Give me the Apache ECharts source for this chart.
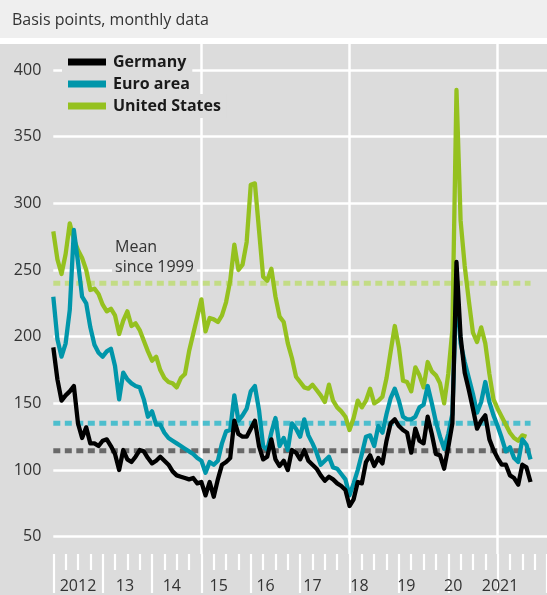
<!DOCTYPE html>
<html><head><meta charset="utf-8">
<script src="https://cdn.jsdelivr.net/npm/echarts@6/dist/echarts.min.js"></script>
<style>html,body{margin:0;padding:0;background:#dcdcdc}#c{width:547px;height:595px}</style>
</head><body><div id="c"></div>
<script>
// Monthly data, first value = January 2012
const startYear = 2012;
const yearLabels = ['2012','13','14','15','16','17','18','19','20','2021'];
const yTickMin = 50, yTickMax = 400, yTickStep = 50;

const germany = [192,168,152,156,159,163,135,124,132,120,
120,118,122,123,118,112,100,115,108,106,
110,115,114,109,105,107,110,107,104,99,
96,95,94,93,94,90,91,81,91,80,
93,104,106,109,137,127,125,125,131,137,
118,108,110,123,108,103,107,100,115,113,
108,115,107,104,101,96,92,95,93,90,
88,85,73,78,91,90,106,111,103,109,
105,122,135,138,133,130,128,113,131,122,
120,140,127,112,111,101,117,135,256,200,
173,160,146,131,137,141,123,115,109,104,
104,96,94,89,104,102,91];

const euroArea = [230,198,185,195,220,280,256,230,225,207,
194,188,185,189,191,178,153,173,168,165,
163,162,153,140,144,134,134,128,124,122,
120,118,116,114,112,109,107,98,106,104,
107,120,129,130,156,137,141,146,159,163,
145,118,115,128,139,118,124,115,135,131,
125,138,126,120,113,104,107,110,102,101,
97,93,81,90,100,112,125,126,118,133,
128,142,154,161,152,140,138,138,140,147,
149,163,150,136,125,116,127,142,240,195,
181,169,157,143,151,166,151,141,133,124,
114,117,109,106,123,119,108];

const unitedStates = [279,258,247,262,285,273,265,259,250,235,
236,232,224,219,221,216,202,212,219,208,
210,205,197,189,182,185,175,169,166,165,
162,169,172,189,202,215,228,204,214,213,
211,216,226,242,269,250,254,271,314,315,
280,245,242,251,230,215,211,195,184,170,
166,162,161,164,160,156,151,164,152,147,
144,140,130,139,152,147,152,161,150,152,
155,169,189,208,192,167,166,159,177,171,
162,181,174,171,165,150,172,205,385,287,
253,227,203,196,207,195,172,153,146,140,
134,128,124,122,126,125];

// Means since 1999
const meanGermany = 114.5;
const meanEuroArea = 135;
const meanUnitedStates = 240;
const meanFromMonth = 0, meanToMonth = 116;

const colors = {de:'#000000', ea:'#0096aa', us:'#95c11f', deMean:'#696969', eaMean:'#4dbecd', usMean:'#c3dc85'};

const toXY = arr => arr.map((v,i)=>[i, v]);
const meanLine = v => [[meanFromMonth, v],[meanToMonth, v]];

const FONT = 'Open Sans';
const gridL = 53.3, gridW = 494.4;
const monthsAxis = 12 * yearLabels.length; // 120

function legendItem(name, top){
  return {data:[name], left:62, top:top, orient:'vertical', padding:[2,6,2,6],
    backgroundColor:'#dcdcdc', itemWidth:38, itemHeight:7, icon:'rect', selectedMode:false,
    textStyle:{fontFamily:FONT, fontWeight:'bold', fontSize:16, color:'#1a1a1a', lineHeight:20, padding:[0,0,0,2]}};
}

const chart = echarts.init(document.getElementById('c'), null, {renderer:'canvas'});
chart.setOption({
  animation:false,
  backgroundColor:'#dcdcdc',
  title:{text:'Basis points, monthly data', left:12, top:10, padding:0,
    textStyle:{fontFamily:FONT, fontSize:16, fontWeight:'normal', color:'#333', lineHeight:20}},
  graphic:{elements:[
    {type:'rect', silent:true, z:-5, shape:{x:0,y:0,width:547,height:38}, style:{fill:'#efefef'}},
    {type:'rect', silent:true, z:-5, shape:{x:0,y:38,width:547,height:6}, style:{fill:'#ffffff'}},
    {type:'text', silent:true, z:10, left:112, top:235,
      style:{text:'Mean\nsince 1999', font:'16px "Open Sans"', fill:'#333', backgroundColor:'#dcdcdc', padding:[2,3,2,3], lineHeight:20}}
  ]},
  legend:[legendItem('Germany',50), legendItem('Euro area',72), legendItem('United States',94)],
  grid:[
    {left:gridL, width:gridW, top:44, height:510},
    {left:gridL, width:gridW, top:70, height:466.7},
    {left:gridL + gridW/monthsAxis*6, width:gridW, top:585, height:1}
  ],
  xAxis:[
    {gridIndex:0, type:'value', min:0, max:monthsAxis, interval:36,
      axisLine:{show:false}, axisTick:{show:false}, axisLabel:{show:false},
      splitLine:{show:true, showMinLine:false, showMaxLine:false, lineStyle:{color:'#ffffff', width:2.5}}},
    {gridIndex:0, type:'value', min:0, max:monthsAxis, interval:12, position:'bottom',
      axisLine:{show:false}, axisLabel:{show:false}, splitLine:{show:false},
      axisTick:{show:true, length:39, lineStyle:{color:'#ffffff', width:2.2}},
      minorTick:{show:true, splitNumber:4, length:16, lineStyle:{color:'#ffffff', width:2.2}},
      minorSplitLine:{show:false}},
    {gridIndex:1, type:'value', min:0, max:monthsAxis, show:false},
    {gridIndex:2, type:'value', min:0, max:monthsAxis, interval:12,
      axisLine:{show:false}, axisTick:{show:false}, splitLine:{show:false},
      axisLabel:{show:true, margin:0, verticalAlign:'middle', showMaxLabel:false,
        fontFamily:FONT, fontSize:16, color:'#333',
        formatter:v => { const k = Math.round(v/12); return (k>=0 && k<yearLabels.length) ? yearLabels[k] : ''; }}}
  ],
  yAxis:[
    {gridIndex:0, type:'value', min:0, max:1, show:false},
    {gridIndex:1, type:'value', min:yTickMin, max:yTickMax, interval:yTickStep,
      axisLine:{show:false}, axisTick:{show:false},
      axisLabel:{margin:12, fontFamily:FONT, fontSize:16, color:'#333'},
      splitLine:{show:true, lineStyle:{color:'#ffffff', width:2.5}}},
    {gridIndex:2, type:'value', show:false}
  ],
  series:[
    {name:'meanUS', type:'line', xAxisIndex:2, yAxisIndex:1, data:meanLine(meanUnitedStates), symbol:'none', silent:true,
      lineStyle:{color:colors.usMean, width:5, type:[7,4.5]}, z:1},
    {name:'meanEA', type:'line', xAxisIndex:2, yAxisIndex:1, data:meanLine(meanEuroArea), symbol:'none', silent:true,
      lineStyle:{color:colors.eaMean, width:5, type:[7,4.5]}, z:1},
    {name:'meanDE', type:'line', xAxisIndex:2, yAxisIndex:1, data:meanLine(meanGermany), symbol:'none', silent:true,
      lineStyle:{color:colors.deMean, width:5, type:[7,4.5]}, z:1},
    {name:'United States', type:'line', xAxisIndex:2, yAxisIndex:1, data:toXY(unitedStates), symbol:'none',
      color:colors.us, itemStyle:{color:colors.us}, lineStyle:{color:colors.us, width:4.3, join:'round'}, z:2},
    {name:'Euro area', type:'line', xAxisIndex:2, yAxisIndex:1, data:toXY(euroArea), symbol:'none',
      color:colors.ea, itemStyle:{color:colors.ea}, lineStyle:{color:colors.ea, width:4.3, join:'round'}, z:3},
    {name:'Germany', type:'line', xAxisIndex:2, yAxisIndex:1, data:toXY(germany), symbol:'none',
      color:colors.de, itemStyle:{color:colors.de}, lineStyle:{color:colors.de, width:4.3, join:'round'}, z:4}
  ]
});
</script></body></html>
